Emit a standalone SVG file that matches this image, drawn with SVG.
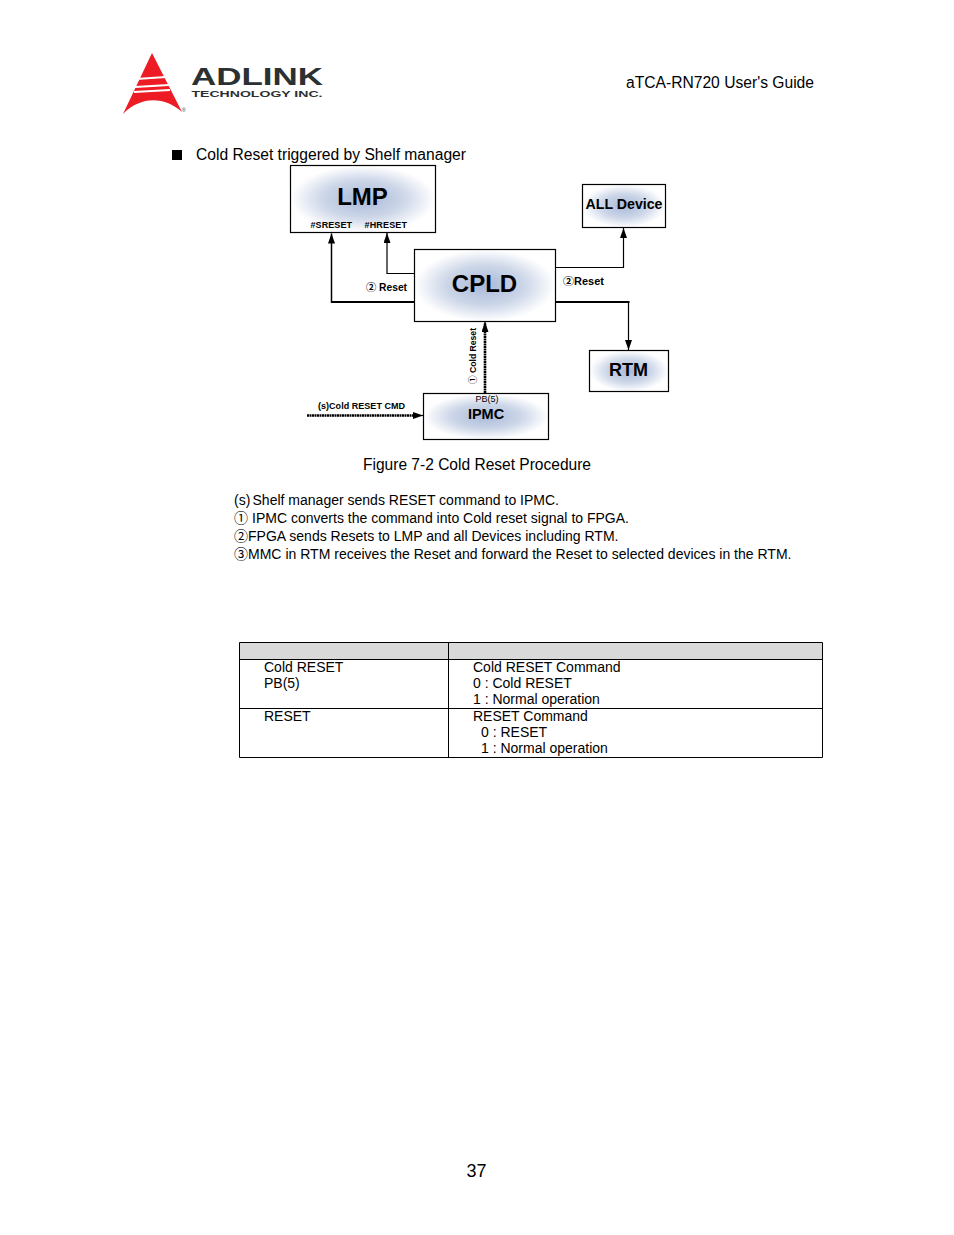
<svg xmlns="http://www.w3.org/2000/svg" width="954" height="1235" viewBox="0 0 954 1235">
<style>
text{font-family:"Liberation Sans",Arial,"Noto Sans CJK JP",sans-serif;fill:#000}
.t{font-size:16px}
.s{font-size:14px}
.box{fill:url(#glow);stroke:#000;stroke-width:1.2}
.b{font-weight:bold;text-anchor:middle}
.lab{font-size:9px;font-weight:bold}
.rst{font-size:10px;font-weight:bold}
.w{fill:none;stroke:#000;stroke-width:1.2}
.h{fill:none;stroke:#000;stroke-width:2.2}
.v{fill:none;stroke:#000;stroke-width:1.5}
.d{fill:none;stroke:#000;stroke-width:2.6;stroke-dasharray:2 .5}
.cell{fill:none;stroke:#000;stroke-width:1}
</style>
<defs>
<radialGradient id="glow" cx="0.5" cy="0.5" r="0.5">
<stop offset="0" stop-color="#a9b9d8"/>
<stop offset="0.55" stop-color="#ccd6e8"/>
<stop offset="1" stop-color="#fff"/>
</radialGradient>
<marker id="a" viewBox="0 0 10 7" refX="10" refY="3.500" markerWidth="10" markerHeight="7" markerUnits="userSpaceOnUse" orient="auto"><path d="M0 0L10 3.500L0 7z" fill="#000"/></marker>
</defs>
<rect width="954" height="1235" fill="#fff"/>

<g id="logo">
<path d="M152 53L182 112C165 96 140 96 123 114Z" fill="#ed1c24"/>
<path d="M136 79L166 77M135 87L169 85M134 92L170 90" stroke="#fff" stroke-width="2" fill="none"/>
<text x="191" y="84.500" style="font-size:23px;font-weight:bold;fill:#2b3033" textLength="132" lengthAdjust="spacingAndGlyphs">ADLINK</text>
<text x="191.500" y="97" style="font-size:8.500px;font-weight:bold;fill:#2b3033" textLength="131" lengthAdjust="spacingAndGlyphs">TECHNOLOGY INC.</text>
<text x="182" y="112" style="font-size:5px;fill:#333">®</text>
</g>
<text class="t" x="626" y="88" textLength="188" lengthAdjust="spacingAndGlyphs">aTCA-RN720 User's Guide</text>
<rect x="172" y="150" width="10" height="10" fill="#000"/>
<text class="t" x="196" y="160" textLength="270" lengthAdjust="spacingAndGlyphs">Cold Reset triggered by Shelf manager</text>

<g id="connectors">
<path class="h" d="M414 302H331.500"/>
<path class="v" d="M331.500 303V233.500" marker-end="url(#a)"/>
<path class="w" d="M414 273.500H387V233" marker-end="url(#a)"/>
<path class="w" d="M556 267.500H623.500V228" marker-end="url(#a)"/>
<path class="h" d="M556 302H629.500"/>
<path class="w" d="M628.500 302V350" marker-end="url(#a)"/>
<path class="d" d="M485 393V323"/>
<path d="M485 330V322" class="w" marker-end="url(#a)"/>
<path class="d" d="M307 415.500H416"/>
<path d="M414 415.500H423" class="w" marker-end="url(#a)"/>
</g>

<g id="lmp">
<rect class="box" x="290.500" y="165.500" width="145" height="67"/>
<text class="b" x="362.500" y="205" font-size="24">LMP</text>
<text class="lab" x="310.500" y="228" textLength="41.500">#SRESET</text>
<text class="lab" x="364.500" y="228" textLength="42.500">#HRESET</text>
</g>
<g id="cpld">
<rect class="box" x="414.500" y="249.500" width="141" height="72"/>
<text class="b" x="484.500" y="292" font-size="24">CPLD</text>
</g>
<g id="all-device">
<rect class="box" x="582.500" y="184.500" width="83" height="43"/>
<text class="b" x="624" y="209" font-size="14.200">ALL Device</text>
</g>
<g id="rtm">
<rect class="box" x="589.500" y="350.500" width="79" height="41"/>
<text class="b" x="628.500" y="376" font-size="18">RTM</text>
</g>
<g id="ipmc">
<rect class="box" x="423.500" y="393.500" width="125" height="46"/>
<text x="487" y="402" font-size="9" text-anchor="middle">PB(5)</text>
<text class="b" x="486" y="419" font-size="14.500">IPMC</text>
</g>

<text class="rst" x="366" y="290.500" textLength="41" lengthAdjust="spacingAndGlyphs">② Reset</text>
<text class="rst" x="563" y="285" textLength="41" lengthAdjust="spacingAndGlyphs">②Reset</text>
<text class="lab" transform="translate(476 384) rotate(-90)" textLength="56" lengthAdjust="spacingAndGlyphs">① Cold Reset</text>
<text class="lab" x="318" y="409" textLength="87">(s)Cold RESET CMD</text>

<text class="t" x="363" y="470" textLength="228" lengthAdjust="spacingAndGlyphs">Figure 7-2 Cold Reset Procedure</text>

<text class="s" x="234" y="505">(s)</text>
<text class="s" x="252.500" y="505" textLength="306.500">Shelf manager sends RESET command to IPMC.</text>
<text class="s" x="234" y="523">①</text>
<text class="s" x="252" y="523" textLength="377">IPMC converts the command into Cold reset signal to FPGA.</text>
<text class="s" x="234" y="541">②</text>
<text class="s" x="248" y="541" textLength="370.500">FPGA sends Resets to LMP and all Devices including RTM.</text>
<text class="s" x="234" y="559">③</text>
<text class="s" x="248" y="559" textLength="543.500">MMC in RTM receives the Reset and forward the Reset to selected devices in the RTM.</text>

<g id="table">
<rect x="239.500" y="642.500" width="583" height="17" fill="#d9d9d9"/>
<path class="cell" d="M239.500 642.500H822.500V757.500H239.500ZM448.500 642.500V757.500M239.500 659.500H822.500M239.500 708.500H822.500"/>
<text class="s" x="264" y="672">Cold RESET</text>
<text class="s" x="264" y="688">PB(5)</text>
<text class="s" x="264" y="721">RESET</text>
<text class="s" x="473" y="672">Cold RESET Command</text>
<text class="s" x="473" y="688">0 : Cold RESET</text>
<text class="s" x="473" y="704">1 : Normal operation</text>
<text class="s" x="473" y="721">RESET Command</text>
<text class="s" x="481" y="737">0 : RESET</text>
<text class="s" x="481" y="753">1 : Normal operation</text>
</g>
<text x="476.500" y="1177" font-size="18" text-anchor="middle">37</text>
</svg>
